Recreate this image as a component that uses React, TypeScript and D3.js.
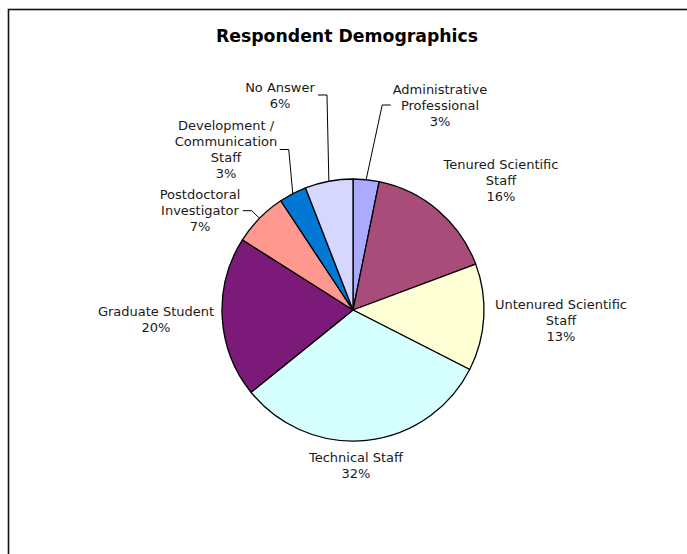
import React, { useEffect, useRef } from "react";
import * as d3 from "d3";

// ---- data ----
const categories = [
  "Administrative Professional",
  "Tenured Scientific Staff",
  "Untenured Scientific Staff",
  "Technical Staff",
  "Graduate Student",
  "Postdoctoral Investigator",
  "Development / Communication Staff",
  "No Answer",
];
const labelLines = [
  ["Administrative", "Professional"],
  ["Tenured Scientific", "Staff"],
  ["Untenured Scientific", "Staff"],
  ["Technical Staff"],
  ["Graduate Student"],
  ["Postdoctoral", "Investigator"],
  ["Development /", "Communication", "Staff"],
  ["No Answer"],
];
const values = [3.2, 16.1, 13.2, 31.7, 19.8, 6.7, 3.4, 5.9];
const percentLabels = ["3%", "16%", "13%", "32%", "20%", "7%", "3%", "6%"];
const title = "Respondent Demographics";

// ---- style / layout ----
const colors = ["#AAAAFF", "#A84C7A", "#FFFFD6", "#D6FFFF", "#7B1A78", "#FF998F", "#0078D4", "#D6D6FF"];
const W = 687, H = 554;
const CX = 353, CY = 310, R = 131;
// label block centres relative to pie centre
const labelOffsets: [number, number][] = [
  [87, -205], [148, -129.5], [208, 10.3], [3, 155],
  [-197, 9.5], [-153, -99.3], [-127, -160.5], [-73, -215],
];
// leader lines: which labels, and on which side of the label the leader attaches
const leaderSide: (null | "left" | "right")[] = ["left", null, null, null, null, "right", "right", "right"];
const FONT = "Verdana, 'DejaVu Sans', sans-serif";
const LINE_H = 16;

export default function App() {
  const ref = useRef<SVGSVGElement>(null);
  useEffect(() => {
    const svg = d3.select(ref.current);
    svg.selectAll("*").remove();

    svg.append("rect").attr("x", 0).attr("y", 0).attr("width", W).attr("height", H).attr("fill", "#fff");
    svg.append("rect")
      .attr("x", 8.5).attr("y", 9.5).attr("width", W + 20).attr("height", H + 20)
      .attr("fill", "none").attr("stroke", "#111").attr("stroke-width", 1.6);

    svg.append("text")
      .attr("x", 347).attr("y", 42)
      .attr("text-anchor", "middle")
      .attr("font-family", FONT).attr("font-weight", "bold").attr("font-size", 17.3)
      .attr("fill", "#000")
      .text(title);

    const pie = d3.pie<number>().sort(null).startAngle(0).endAngle(2 * Math.PI);
    const arcs = pie(values);
    const arc = d3.arc<d3.PieArcDatum<number>>().innerRadius(0).outerRadius(R);

    const g = svg.append("g").attr("transform", `translate(${CX},${CY})`);
    g.selectAll("path.slice")
      .data(arcs)
      .join("path")
      .attr("class", "slice")
      .attr("d", arc)
      .attr("fill", (_d, i) => colors[i])
      .attr("stroke", "#000")
      .attr("stroke-width", 1.3)
      .attr("stroke-linejoin", "round");

    const lg = svg.append("g");
    arcs.forEach((a, i) => {
      const lines = [...labelLines[i], percentLabels[i]];
      const cx = CX + labelOffsets[i][0];
      const cy = CY + labelOffsets[i][1];
      const t = lg.append("text")
        .attr("text-anchor", "middle")
        .attr("font-family", FONT).attr("font-size", 13)
        .attr("fill", "#1a1a1a");
      lines.forEach((ln, k) => {
        t.append("tspan")
          .attr("x", cx)
          .attr("y", cy + (k - (lines.length - 1) / 2) * LINE_H + 4.7)
          .text(ln);
      });
      const side = leaderSide[i];
      if (side) {
        const bb = (t.node() as SVGTextElement).getBBox();
        const mid = (a.startAngle + a.endAngle) / 2;
        const sx = CX + R * Math.sin(mid);
        const sy = CY - R * Math.cos(mid);
        const edge = side === "left" ? bb.x - 2 : bb.x + bb.width + 2.5;
        const elbow = side === "left" ? edge - 8.5 : edge + 9;
        const path = d3.path();
        path.moveTo(sx, sy);
        path.lineTo(elbow, cy);
        path.lineTo(edge, cy);
        lg.append("path")
          .attr("d", path.toString())
          .attr("fill", "none")
          .attr("stroke", "#000")
          .attr("stroke-width", 1);
      }
    });
  }, []);
  return (
    <svg
      ref={ref}
      width={W}
      height={H}
      style={{ position: "absolute", left: 0, top: 0, display: "block" }}
    />
  );
}
